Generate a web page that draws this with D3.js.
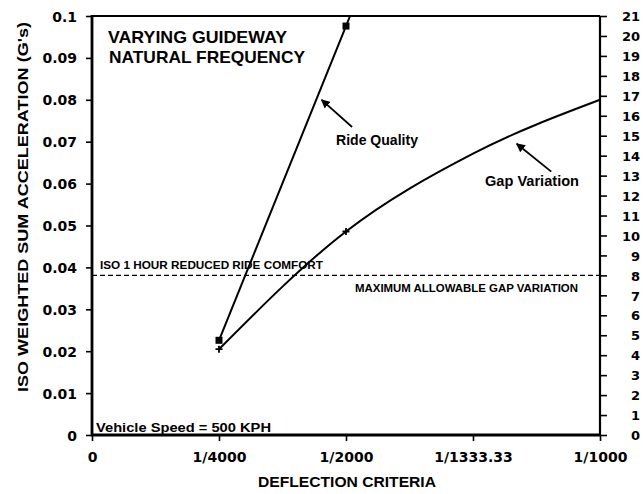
<!DOCTYPE html>
<html>
<head>
<meta charset="utf-8">
<script src="https://cdn.jsdelivr.net/npm/d3@7"></script>
<style>
  html, body { margin: 0; padding: 0; background: #fff; }
  svg { display: block; }
  text { fill: #000; }
</style>
</head>
<body>
<svg id="chart" width="643" height="494"></svg>
<script>
// Deflection criteria on the x axis (guideway span / deflection ratio)
const xTickValues = [0, 1 / 4000, 1 / 2000, 1 / 1333.33, 1 / 1000];
const xTickLabels = ["0", "1/4000", "1/2000", "1/1333.33", "1/1000"];

// Left axis: ISO weighted sum acceleration (G's)
const accelTicks = [0, 0.01, 0.02, 0.03, 0.04, 0.05, 0.06, 0.07, 0.08, 0.09, 0.1];
const accelTickLabels = ["0", "0.01", "0.02", "0.03", "0.04", "0.05", "0.06", "0.07", "0.08", "0.09", "0.1"];

// Right axis: gap variation
const gapTicks = d3.range(0, 22);

// Ride quality series (left axis)
const rideDeflection = [1 / 4000, 1 / 2000];
const rideAccel = [0.0226, 0.0976];

// Gap variation series (right axis)
const gapDeflection = [1 / 4000, 1 / 2000, 1 / 1333.33, 1 / 1000];
const gapValue = [4.3, 10.2, 14.1, 16.8];
const gapMarked = [true, true, false, false];

// Limits
const isoComfortLimit = 8;   // drawn against the right axis
const maxGapVariation = 8;

const svg = d3.select("#chart");
const L = 92, R = 600, T = 16, B = 435;

const x = d3.scaleLinear().domain([0, 0.001]).range([L, R]);
const yL = d3.scaleLinear().domain([0, 0.1]).range([B, T]);
const yR = d3.scaleLinear().domain([0, 21]).range([B, T]);

const tickFont = "'DejaVu Sans', sans-serif";
const labelFont = "'Liberation Sans', Arial, sans-serif";

// Left axis
const gLeft = svg.append("g").attr("transform", `translate(${L},0)`)
  .call(d3.axisLeft(yL).tickValues(accelTicks)
    .tickFormat((d, i) => accelTickLabels[i]).tickSize(6));
gLeft.select(".domain").remove();
gLeft.selectAll(".tick line").attr("stroke", "#000").attr("stroke-width", 1.6);
gLeft.selectAll(".tick text").attr("x", -15).attr("dy", "0.36em")
  .style("font-family", tickFont).style("font-weight", "bold").style("font-size", "14px");

// Right axis
const gRight = svg.append("g").attr("transform", `translate(${R},0)`)
  .call(d3.axisRight(yR).tickValues(gapTicks).tickFormat(d3.format("d")).tickSize(7));
gRight.select(".domain").remove();
gRight.selectAll(".tick line").attr("stroke", "#000").attr("stroke-width", 1.6);
gRight.selectAll(".tick text").attr("x", 40).attr("text-anchor", "end").attr("dy", "0.36em")
  .style("font-family", tickFont).style("font-weight", "bold").style("font-size", "13px");

// Bottom axis
const gBottom = svg.append("g").attr("transform", `translate(0,${B})`)
  .call(d3.axisBottom(x).tickValues(xTickValues)
    .tickFormat((d, i) => xTickLabels[i]).tickSize(6));
gBottom.select(".domain").remove();
gBottom.selectAll(".tick line").attr("stroke", "#000").attr("stroke-width", 1.6);
gBottom.selectAll(".tick text").attr("y", 27).attr("dy", 0)
  .style("font-family", tickFont).style("font-weight", "bold").style("font-size", "14px");

// Frame
const frame = svg.append("g").attr("stroke", "#000").attr("fill", "none");
frame.append("line").attr("x1", L).attr("x2", R).attr("y1", T).attr("y2", T).attr("stroke-width", 2.2);
frame.append("line").attr("x1", R).attr("x2", R).attr("y1", T).attr("y2", B).attr("stroke-width", 2.2);
frame.append("line").attr("x1", L).attr("x2", L).attr("y1", T - 1).attr("y2", B + 1).attr("stroke-width", 2.8);
frame.append("line").attr("x1", L - 1).attr("x2", R + 1).attr("y1", B).attr("y2", B).attr("stroke-width", 2.8);

// Dashed limit line
svg.append("line")
  .attr("x1", L).attr("x2", R)
  .attr("y1", yR(maxGapVariation)).attr("y2", yR(isoComfortLimit))
  .attr("stroke", "#000").attr("stroke-width", 1.3)
  .attr("stroke-dasharray", "5,3");

// Ride quality line, continued along its last segment up to the top of the frame
const rideData = rideDeflection.map((d, i) => ({ x: d, y: rideAccel[i] }));
const n = rideData.length;
const p0 = rideData[n - 2], p1 = rideData[n - 1];
const slope = (p1.y - p0.y) / (p1.x - p0.x);
const yTop = yL.domain()[1];
const rideLineData = rideData.concat([{ x: p1.x + (yTop - p1.y) / slope, y: yTop }]);

svg.append("path")
  .datum(rideLineData)
  .attr("fill", "none").attr("stroke", "#000").attr("stroke-width", 2)
  .attr("d", d3.line().x(d => x(d.x)).y(d => yL(d.y)));

svg.selectAll(".rideMark").data(rideData).join("rect")
  .attr("class", "rideMark")
  .attr("x", d => x(d.x) - 3.5).attr("y", d => yL(d.y) - 3.5)
  .attr("width", 7).attr("height", 7).attr("fill", "#000");

// Gap variation curve
const gapData = gapDeflection.map((d, i) => ({ x: d, y: gapValue[i], marked: gapMarked[i] }));
svg.append("path")
  .datum(gapData)
  .attr("fill", "none").attr("stroke", "#000").attr("stroke-width", 2)
  .attr("d", d3.line().x(d => x(d.x)).y(d => yR(d.y)).curve(d3.curveMonotoneX));

svg.selectAll(".gapMark").data(gapData.filter(d => d.marked)).join("path")
  .attr("class", "gapMark")
  .attr("d", d => {
    const cx = x(d.x), cy = yR(d.y);
    return `M${cx - 3.5},${cy}H${cx + 3.5}M${cx},${cy - 3.5}V${cy + 3.5}`;
  })
  .attr("stroke", "#000").attr("stroke-width", 1.8);

// Text helpers
function label(txt, px, py, size, width, opts = {}) {
  const t = svg.append("text")
    .attr("x", px).attr("y", py)
    .style("font-family", opts.font || labelFont)
    .style("font-weight", "bold")
    .style("font-size", size + "px")
    .text(txt);
  if (width) t.attr("textLength", width).attr("lengthAdjust", "spacingAndGlyphs");
  if (opts.anchor) t.attr("text-anchor", opts.anchor);
  return t;
}

// Title block
label("VARYING GUIDEWAY", 108, 43, 17, 179);
label("NATURAL FREQUENCY", 109, 63, 17, 196);

// Limit labels
label("ISO 1 HOUR REDUCED RIDE COMFORT", 100, yR(isoComfortLimit) - 6, 11, 223);
label("MAXIMUM ALLOWABLE GAP VARIATION", 355, yR(maxGapVariation) + 17, 11, 223);

// Operating condition
label("Vehicle Speed = 500 KPH", 96, 432, 12, 175);

// Axis titles
label("DEFLECTION CRITERIA", 258, 487, 14, 178);
svg.append("text")
  .attr("transform", "translate(28,392) rotate(-90)")
  .style("font-family", labelFont).style("font-weight", "bold").style("font-size", "15px")
  .attr("textLength", 370).attr("lengthAdjust", "spacingAndGlyphs")
  .text("ISO WEIGHTED SUM ACCELERATION (G's)");

// Series call-outs with arrows
svg.append("defs").append("marker")
  .attr("id", "arrowHead").attr("viewBox", "0 0 10 10")
  .attr("refX", 9).attr("refY", 5)
  .attr("markerWidth", 9).attr("markerHeight", 9)
  .attr("markerUnits", "userSpaceOnUse")
  .attr("orient", "auto")
  .append("path").attr("d", "M0,0L10,5L0,10Z").attr("fill", "#000");

function arrow(x0, y0, x1, y1) {
  svg.append("line")
    .attr("x1", x0).attr("y1", y0).attr("x2", x1).attr("y2", y1)
    .attr("stroke", "#000").attr("stroke-width", 1.8)
    .attr("marker-end", "url(#arrowHead)");
}

arrow(x(0.000512), yL(0.0735), x(0.000452), yL(0.0800));
label("Ride Quality", 336, 145, 15, 82);

arrow(x(0.000904), yR(13.2), x(0.000836), yR(14.6));
label("Gap Variation", 485, 186, 15, 94);
</script>
</body>
</html>
